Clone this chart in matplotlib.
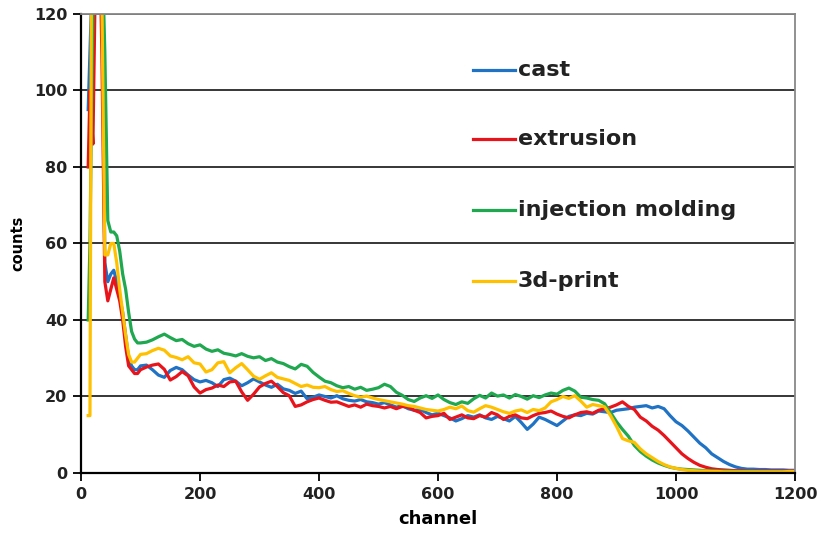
import numpy as np
import matplotlib
matplotlib.use('Agg')
import matplotlib.pyplot as plt

# channel grid: fine steps in the start-up spike, then every 10 channels
early_channels = [12, 15, 18, 20, 25, 30, 35, 40, 45, 50, 55, 60, 65, 70,
                  75, 80, 85, 90, 95, 100]
channels = np.concatenate([early_channels, np.arange(110, 1201, 10)])

series_names = ['cast', 'extrusion', 'injection molding', '3d-print']

cast = [
    95, 110, 125, 135, 150, 150, 140, 55, 50, 52, 53, 50, 46, 42, 36, 30, 28, 27, 27, 28,
    28.2, 27.0, 25.6, 25.0, 26.8, 27.6, 27.0, 25.6, 24.4, 23.8,
    24.2, 23.6, 22.6, 24.4, 24.8, 24.0, 22.8, 23.6, 24.6, 23.8,
    23.0, 22.4, 23.2, 22.0, 21.6, 20.8, 21.4, 19.4, 19.8, 20.4,
    20.0, 19.6, 20.2, 19.4, 19.0, 18.8, 19.2, 18.6, 18.4, 18.0,
    18.4, 17.8, 17.2, 17.6, 16.8, 16.4, 16.6, 15.8, 15.2, 15.6,
    15.0, 14.4, 13.6, 14.2, 15.0, 14.6, 15.2, 14.4, 14.0, 14.8,
    14.2, 13.6, 14.8, 13.2, 11.4, 12.8, 14.6, 14.0, 13.2, 12.4,
    13.6, 14.8, 15.2, 15.0, 15.6, 15.4, 16.2, 16.0, 15.8, 16.4,
    16.6, 16.8, 17.2, 17.4, 17.6, 17.0, 17.4, 16.8, 15.0, 13.4,
    12.4, 11.0, 9.4, 7.8, 6.6, 5.0, 4.0, 3.0, 2.2, 1.6,
    1.2, 1.0, 1.0, 0.9, 0.9, 0.8, 0.8, 0.8, 0.7, 0.7,
]

extrusion = [
    80, 100, 92, 86, 140, 150, 110, 50, 45, 48, 51, 48, 45, 40, 33, 28, 27, 26, 26, 27,
    27.7, 28.2, 28.5, 27.1, 24.3, 25.2, 26.5, 25.4, 22.5, 20.9,
    21.8, 22.2, 23.0, 22.6, 23.8, 24.0, 21.2, 19.0, 20.6, 22.5,
    23.4, 24.0, 22.6, 21.0, 20.2, 17.4, 17.8, 18.6, 19.2, 19.6,
    19.0, 18.5, 18.6, 18.0, 17.4, 17.8, 17.2, 18.0, 17.6, 17.4,
    17.0, 17.4, 16.8, 17.4, 17.2, 16.4, 15.8, 14.4, 14.8, 15.0,
    15.6, 14.0, 14.6, 15.2, 14.4, 14.2, 15.0, 14.6, 15.8, 15.2,
    14.0, 14.8, 15.2, 14.4, 14.2, 15.0, 15.6, 15.8, 16.2, 15.4,
    14.8, 14.4, 15.2, 15.8, 16.0, 15.6, 16.4, 16.8, 17.2, 17.8,
    18.6, 17.4, 16.6, 14.6, 13.6, 12.2, 11.2, 9.8, 8.2, 6.6,
    5.0, 3.8, 2.8, 2.0, 1.5, 1.1, 0.9, 0.8, 0.7, 0.6,
    0.6, 0.5, 0.5, 0.5, 0.5, 0.5, 0.5, 0.5, 0.5, 0.5,
]

injection = [
    40, 60, 100, 120, 150, 150, 140, 110, 66, 63, 63, 62, 58, 52, 48, 42, 37, 35, 34, 34,
    34.2, 34.8, 35.6, 36.3, 35.4, 34.6, 34.9, 33.8, 33.1, 33.5,
    32.4, 31.8, 32.2, 31.3, 31.0, 30.6, 31.2, 30.5, 30.1, 30.4,
    29.4, 29.9, 29.0, 28.6, 27.8, 27.2, 28.4, 27.9, 26.3, 25.1,
    24.0, 23.6, 22.8, 22.3, 22.6, 21.9, 22.4, 21.6, 21.9, 22.3,
    23.2, 22.6, 21.1, 20.3, 19.2, 18.7, 19.6, 20.2, 19.5, 20.4,
    19.2, 18.4, 17.9, 18.6, 18.2, 19.4, 20.3, 19.6, 20.9, 20.1,
    20.4, 19.6, 20.5, 20.0, 19.3, 20.2, 19.7, 20.4, 20.9, 20.6,
    21.6, 22.2, 21.4, 19.8, 19.6, 19.2, 19.0, 18.1, 15.8, 13.4,
    11.4, 9.6, 7.2, 5.6, 4.4, 3.4, 2.6, 2.0, 1.5, 1.2,
    1.0, 0.9, 0.8, 0.7, 0.6, 0.6, 0.5, 0.5, 0.5, 0.4,
    0.4, 0.4, 0.4, 0.3, 0.3, 0.3, 0.3, 0.3, 0.3, 0.3,
]

print3d = [
    15, 15, 150, 160, 150, 140, 125, 57, 57, 60, 60, 55, 48, 42, 36, 31, 29, 29, 30, 31,
    31.2, 32.0, 32.6, 32.1, 30.6, 30.2, 29.6, 30.4, 28.8, 28.5,
    26.4, 27.0, 28.8, 29.1, 26.2, 27.5, 28.6, 27.0, 25.3, 24.5,
    25.4, 26.2, 25.0, 24.6, 24.2, 23.4, 22.6, 23.0, 22.4, 22.3,
    22.6, 21.8, 21.3, 21.5, 20.8, 20.2, 19.8, 20.1, 19.6, 19.2,
    18.9, 18.6, 18.3, 18.0, 17.6, 17.4, 17.0, 16.6, 16.4, 16.2,
    16.6, 17.2, 16.8, 17.5, 16.3, 15.9, 16.8, 17.6, 17.2, 16.6,
    16.0, 15.6, 16.2, 16.5, 15.8, 16.6, 16.3, 17.0, 18.6, 19.2,
    20.0, 19.5, 20.2, 18.8, 17.2, 17.9, 17.6, 17.3, 15.0, 12.2,
    9.0, 8.4, 8.0, 6.3, 5.0, 4.0, 3.0, 2.2, 1.6, 1.2,
    0.9, 0.7, 0.6, 0.5, 0.5, 0.4, 0.4, 0.3, 0.3, 0.3,
    0.3, 0.3, 0.3, 0.3, 0.3, 0.3, 0.3, 0.3, 0.4, 0.4,
]

colors = ['#1F72C4', '#E8141C', '#1FA84F', '#FFC000']
x_ticks = [0, 200, 400, 600, 800, 1000, 1200]
y_ticks = [0, 20, 40, 60, 80, 100, 120]

fig = plt.figure(figsize=(8.21, 5.33), dpi=100)
ax = fig.add_axes([0.0987, 0.1126, 0.8696, 0.8612])

for y, c in zip([cast, extrusion, injection, print3d], colors):
    ax.plot(channels, y, color=c, lw=2.3, solid_joinstyle='round')

ax.set_xlim(0, 1200)
ax.set_ylim(0, 120)
ax.set_xticks(x_ticks)
ax.set_yticks(y_ticks)
ax.yaxis.grid(True, color='black', lw=1.1)
ax.set_axisbelow(True)

for s in ['left', 'bottom']:
    ax.spines[s].set_color('black')
    ax.spines[s].set_linewidth(1.6)
for s in ['top', 'right']:
    ax.spines[s].set_color('#888888')
    ax.spines[s].set_linewidth(1.3)

ax.tick_params(axis='both', direction='out', length=6, width=1.3,
               labelsize=11.5, pad=4)
for lbl in ax.get_xticklabels() + ax.get_yticklabels():
    lbl.set_fontweight('bold')
    lbl.set_color('#222222')

ax.set_xlabel('channel', fontsize=13, fontweight='bold', labelpad=6)
ax.set_ylabel('counts', fontsize=10.5, fontweight='bold', labelpad=6)

# hand-placed legend, as in the original sheet
leg_y = [0.878, 0.728, 0.573, 0.418]
for name, c, ly in zip(series_names, colors, leg_y):
    ax.plot([0.549, 0.608], [ly, ly], color=c, lw=2.3, transform=ax.transAxes)
    ax.text(0.612, ly, name, transform=ax.transAxes, fontsize=16,
            fontweight='bold', color='#222222', va='center', ha='left')

fig.savefig('out.png', dpi=100)
